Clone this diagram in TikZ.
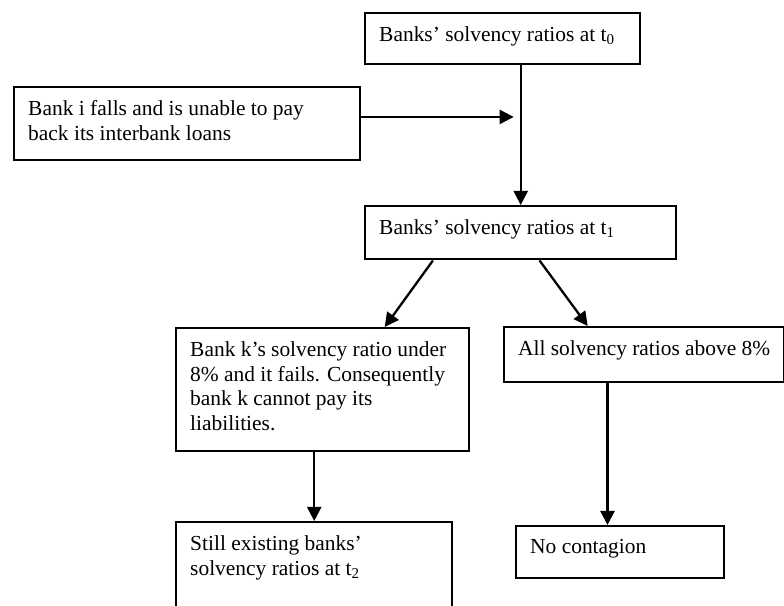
\documentclass[tikz,border=0pt]{standalone}
\usepackage{fontspec}
\setmainfont{Liberation Serif}
\usetikzlibrary{arrows.meta,calc}
\newcommand{\boxtext}[3]{\parbox[t][#2][t]{#1}{\raggedright #3}}
\begin{document}
\begin{tikzpicture}[x=0.02cm,y=-0.02cm,
  box/.style={draw,line width=1.4pt,anchor=north west,inner xsep=0.28cm,inner ysep=0.27cm,
    font=\fontsize{12.2}{14}\selectfont},
  link/.style={line width=1.3pt,-{Triangle[length=8pt,width=8pt]}}]
\useasboundingbox (0,0) rectangle (784,605);
\clip (0,0) rectangle (784,605);
% boxes
\node[box] (T) at (364,12) {\boxtext{4.94cm}{0.48cm}{Banks’ solvency ratios at t\textsubscript{0}}};
\node[box] (L) at (13,86) {\boxtext{6.36cm}{0.92cm}{Bank i falls and is unable to pay\\ back its interbank loans}};
\node[box] (M) at (364,205) {\boxtext{5.66cm}{0.52cm}{Banks’ solvency ratios at t\textsubscript{1}}};
\node[box] (K) at (175,327) {\boxtext{5.30cm}{1.92cm}{Bank k’s solvency ratio under\\ 8\% and it fails. Consequently\\ bank k cannot pay its\\ liabilities.}};
\node[box] (A) at (503,326) {\boxtext{5.04cm}{0.56cm}{All solvency ratios above 8\%}};
\node[box] (S) at (175,521) {\boxtext{4.96cm}{1.48cm}{Still existing banks’\\ solvency ratios at t\textsubscript{2}}};
\node[box] (N) at (515,525) {\boxtext{3.60cm}{0.50cm}{No contagion}};
% connectors
\draw[link] (T.south -| M.north) -- (M.north);
\coordinate (Lout) at ($(L.north east)!0.41!(L.south east)$);
\draw[link,shorten >=4pt] (Lout) -- (Lout -| M.north);
\draw[link] ($(M.south west)!0.22!(M.south east)$) -- ($(K.north west)!0.71!(K.north east)$);
\draw[link] ($(M.south west)!0.56!(M.south east)$) -- ($(A.north west)!0.3!(A.north east)$);
\draw[link] (K.south -| S.north) -- (S.north);
\coordinate (Aout) at ($(A.south west)!0.37!(A.south east)$);
\draw[link] (Aout) -- (Aout |- N.north);
\end{tikzpicture}
\end{document}
